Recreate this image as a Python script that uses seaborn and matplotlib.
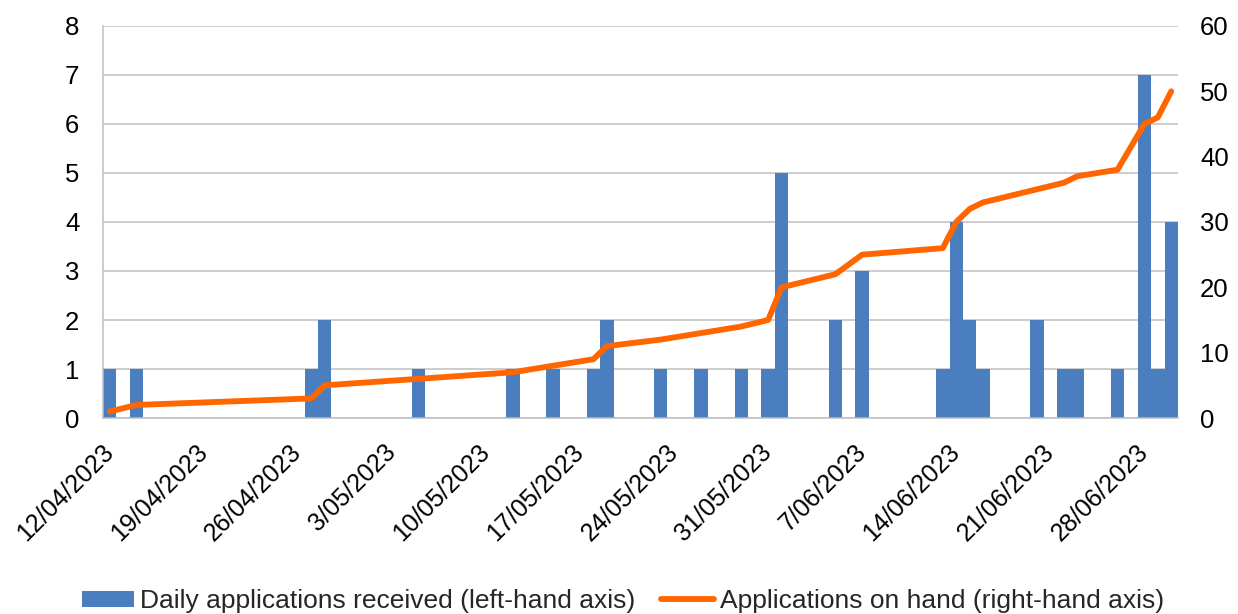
import pandas as pd
import matplotlib
matplotlib.use("Agg")
import matplotlib.pyplot as plt
from matplotlib.patches import Patch
from matplotlib.lines import Line2D
import seaborn as sns

# Dates on which applications arrived, with daily counts and the running total on hand
dates = ["12/04/2023", "14/04/2023", "27/04/2023", "28/04/2023", "05/05/2023",
         "12/05/2023", "15/05/2023", "18/05/2023", "19/05/2023", "23/05/2023",
         "26/05/2023", "29/05/2023", "31/05/2023", "01/06/2023", "05/06/2023",
         "07/06/2023", "13/06/2023", "14/06/2023", "15/06/2023", "16/06/2023",
         "20/06/2023", "22/06/2023", "23/06/2023", "26/06/2023", "28/06/2023",
         "29/06/2023", "30/06/2023"]
daily_received = [1, 1, 1, 2, 1, 1, 1, 1, 2, 1, 1, 1, 1, 5, 2, 3, 1, 4, 2, 1,
                  2, 1, 1, 1, 7, 1, 4]
on_hand = [1, 2, 3, 5, 6, 7, 8, 9, 11, 12, 13, 14, 15, 20, 22, 25, 26, 30, 32, 33,
           35, 36, 37, 38, 45, 46, 50]

start = pd.Timestamp("2023-04-12")
end = pd.Timestamp("2023-06-30")
tick_dates = pd.date_range(start, end, freq="7D")

bar_label = "Daily applications received (left-hand axis)"
line_label = "Applications on hand (right-hand axis)"
bar_color = "#4A7EBF"
line_color = "#FF6600"
grid_color = "#BFBFBF"

df = pd.DataFrame({
    "date": pd.to_datetime(dates, format="%d/%m/%Y"),
    "received": daily_received,
    "on_hand": on_hand,
})
df["day"] = (df["date"] - start).dt.days

sns.set_theme(style="white")
plt.rcParams["font.family"] = ["Liberation Sans", "DejaVu Sans"]

fig = plt.figure(figsize=(12.38, 6.14), dpi=100)
ax = fig.add_axes([0.0832, 0.3192, 0.8683, 0.6385])

sns.barplot(data=df, x="day", y="received", native_scale=True, width=1.0,
            color=bar_color, saturation=1, edgecolor="none", linewidth=0,
            ax=ax, zorder=2)
ax.set_ylim(0, 8)
ax.set_yticks(range(0, 9))
ax.set_xlim(-0.5, (end - start).days + 0.5)
ax.grid(axis="y", color=grid_color, linewidth=1.1, zorder=0)
ax.set_axisbelow(True)
ax.set_xlabel("")
ax.set_ylabel("")

ax2 = ax.twinx()
sns.lineplot(data=df, x="day", y="on_hand", color=line_color, linewidth=4.2,
             ax=ax2, solid_joinstyle="round", solid_capstyle="round")
ax2.set_ylim(0, 60)
ax2.set_yticks(range(0, 61, 10))
ax2.set_ylabel("")
ax2.set_xlabel("")
ax2.grid(False)

tick_pos = [(d - start).days for d in tick_dates]
tick_lab = [f"{d.day}/{d.month:02d}/{d.year}" for d in tick_dates]
ax.set_xticks(tick_pos)
ax.set_xticklabels(tick_lab, rotation=45, ha="right", va="center",
                   rotation_mode="anchor")

for a in (ax, ax2):
    for s in ("top", "right", "left", "bottom"):
        a.spines[s].set_visible(False)
ax.spines["left"].set_visible(True)
ax.spines["bottom"].set_visible(True)
ax.spines["left"].set_color(grid_color)
ax.spines["bottom"].set_color(grid_color)
ax.spines["left"].set_linewidth(1.1)
ax.spines["bottom"].set_linewidth(1.1)

ax.tick_params(axis="y", length=0, pad=17, labelsize=18.5, colors="black")
ax.tick_params(axis="x", length=0, pad=22, labelsize=18, colors="black")
ax2.tick_params(axis="y", length=0, pad=16, labelsize=18.5, colors="black")

handles = [Patch(facecolor=bar_color, edgecolor="none"),
           Line2D([0], [0], color=line_color, linewidth=4.2)]
fig.legend(handles, [bar_label, line_label], loc="center",
           bbox_to_anchor=(0.503, 0.021), ncol=2, frameon=False,
           fontsize=19, handlelength=2.0, handleheight=0.55,
           handletextpad=0.23, columnspacing=0.95, borderpad=0)

fig.savefig("out.png", dpi=100)
